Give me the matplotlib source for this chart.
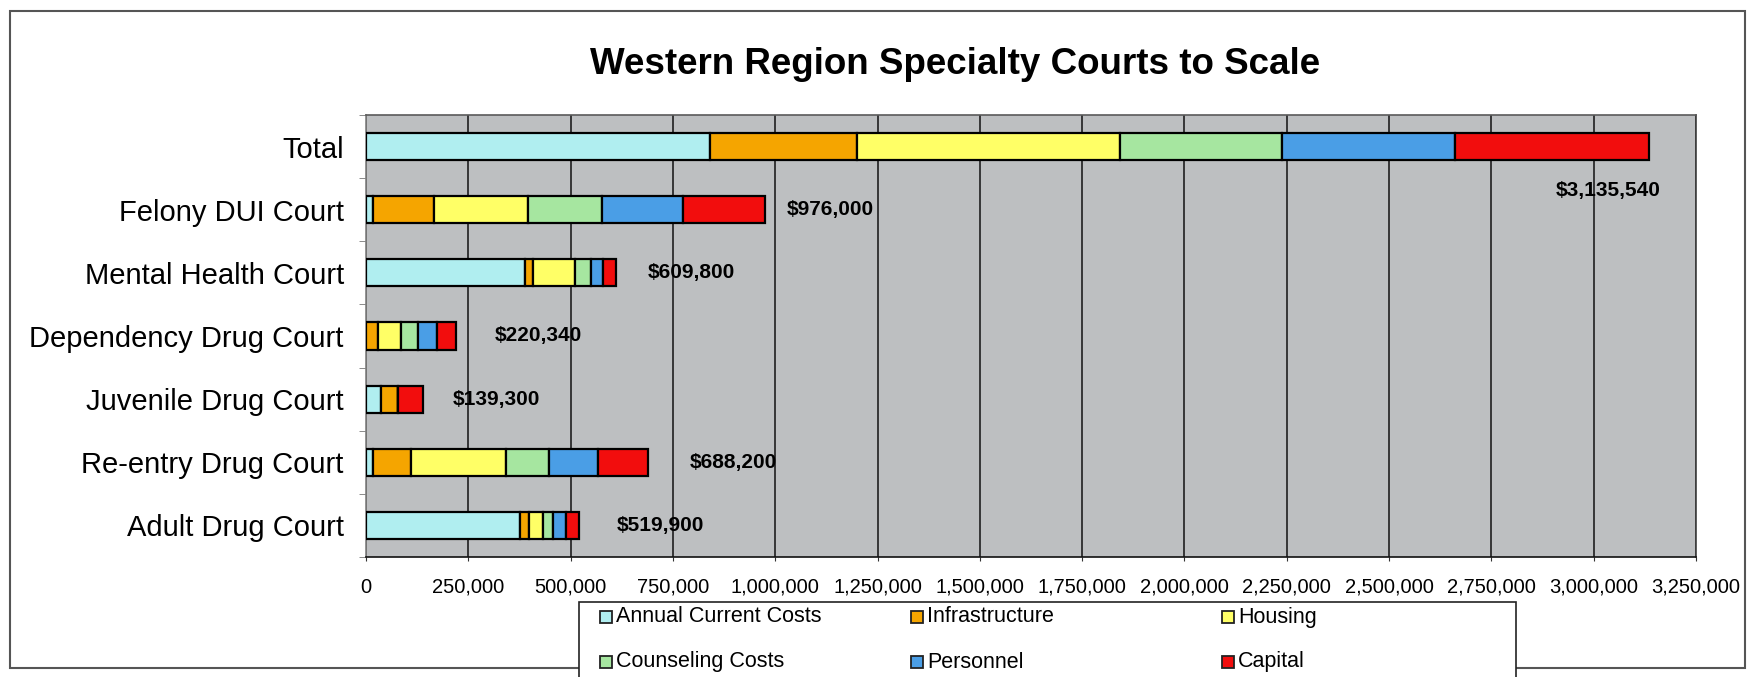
import numpy as np
import matplotlib.pyplot as plt
from matplotlib.patches import Rectangle

plt.rcParams['font.family'] = ['Liberation Sans', 'DejaVu Sans']

courts = ['Total', 'Felony DUI Court', 'Mental Health Court', 'Dependency Drug Court',
          'Juvenile Drug Court', 'Re-entry Drug Court', 'Adult Drug Court']
series = ['Annual Current Costs', 'Infrastructure', 'Housing',
          'Counseling Costs', 'Personnel', 'Capital']
colors = ['#b0eef0', '#f5a500', '#ffff66', '#a6e6a0', '#4a9ee6', '#f20d0d']

annual = [840000, 16000, 389000, 0, 36000, 16000, 377000]
infra = [360000, 151000, 20000, 30000, 43000, 93000, 22000]
housing = [642000, 230000, 102000, 54500, 0, 232000, 34000]
counseling = [396000, 179000, 40000, 41500, 0, 107000, 25000]
personnel = [422000, 198000, 29000, 46300, 0, 119000, 30000]
capital = [475540, 202000, 29800, 48040, 60300, 121200, 31900]
totals = ['$3,135,540', '$976,000', '$609,800', '$220,340', '$139,300', '$688,200', '$519,900']

# label placement (offset from bar end, data units)
label_dx = [28000, 52000, 78000, 95000, 73000, 103000, 92000]
label_dy = [-0.69, 0, 0, 0, 0, 0, 0]

W, H = 1750, 677
fig = plt.figure(figsize=(W / 100, H / 100), dpi=100)
ax = fig.add_axes([366 / W, 1 - 557 / H, (1696 - 366) / W, (557 - 115) / H])
ax.set_facecolor('#bdbfc1')

ypos = np.arange(len(courts))[::-1]
data = np.array([annual, infra, housing, counseling, personnel, capital], dtype=float)
left = np.zeros(len(courts))
for vals, col in zip(data, colors):
    ax.barh(ypos, vals, left=left, height=0.43, color=col, edgecolor='black',
            linewidth=1.6, zorder=3)
    left += vals

for i, txt in enumerate(totals):
    if label_dy[i] != 0:
        ax.text(left[i] + label_dx[i], ypos[i] + label_dy[i], txt, ha='right', va='center',
                fontsize=15, fontweight='bold', zorder=4)
    else:
        ax.text(left[i] + label_dx[i], ypos[i], txt, ha='left', va='center',
                fontsize=15, fontweight='bold', zorder=4)

ax.set_xlim(0, 3250000)
ax.set_ylim(-0.5, len(courts) - 0.5)
ticks = np.arange(0, 3250001, 250000)
ax.set_xticks(ticks)
ax.set_xticklabels(['{:,}'.format(int(v)) for v in ticks], fontsize=14.5)
ax.set_yticks(ypos)
ax.set_yticklabels(courts, fontsize=21)
ax.set_yticks(np.arange(-0.5, len(courts), 1.0), minor=True)
ax.tick_params(axis='y', which='major', length=0, pad=16)
ax.tick_params(axis='y', which='minor', length=5, color='#777777', direction='out')
ax.tick_params(axis='x', which='major', length=3, pad=12, color='#333333')
ax.xaxis.grid(True, color='#111111', linewidth=1.1, zorder=0)
ax.set_axisbelow(True)
ax.spines['left'].set_color('#808080')
ax.spines['top'].set_color('#5a5a5a')
ax.spines['right'].set_color('#404040')
ax.spines['bottom'].set_color('#111111')
for s in ax.spines.values():
    s.set_linewidth(1.2)

fig.text(955 / W, 1 - 65 / H, 'Western Region Specialty Courts to Scale', ha='center',
         va='center', fontsize=26.5, fontweight='bold')

# outer frame
fig.patches.append(Rectangle((10 / W, 1 - 668 / H), (1745 - 10) / W, (668 - 11) / H,
                             transform=fig.transFigure, fill=False, edgecolor='#555555',
                             linewidth=1.5, zorder=0))

# legend box (runs off the bottom edge)
fig.patches.append(Rectangle((579 / W, -0.05), (1516 - 579) / W, 1 - 602 / H + 0.05,
                             transform=fig.transFigure, facecolor='white', edgecolor='#222222',
                             linewidth=1.2, zorder=1))
for i, name in enumerate(series):
    c, r = i % 3, i // 3
    hx = 600 + c * 311
    hy = 617 + r * 45
    fig.patches.append(Rectangle((hx / W, 1 - (hy + 6) / H), 12 / W, 12 / H,
                                 transform=fig.transFigure, facecolor=colors[i],
                                 edgecolor='#222222', linewidth=1.3, zorder=2))
    fig.text((hx + 16) / W, 1 - hy / H, name, ha='left', va='center', fontsize=15.5, zorder=3)

fig.savefig('out.png', dpi=100, facecolor='white')
